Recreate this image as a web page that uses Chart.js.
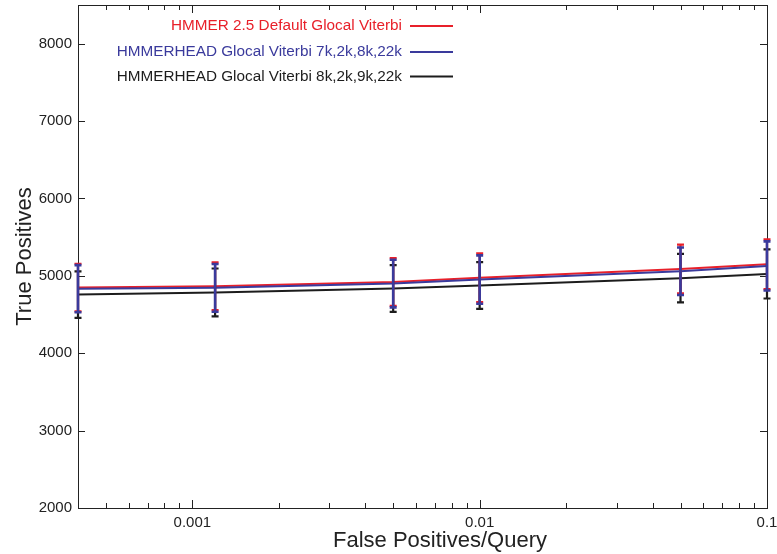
<!DOCTYPE html>
<html>
<head>
<meta charset="utf-8">
<script src="https://cdn.jsdelivr.net/npm/chart.js@4/dist/chart.umd.min.js"></script>
<style>
  html, body { margin: 0; padding: 0; background: #fff; }
  #wrap { width: 777px; height: 554px; }
</style>
</head>
<body>
<div id="wrap"><canvas id="roc"></canvas></div>
<script>
// false positives per query (x positions of the measured points)
const fpPerQuery = [0.0004, 0.0012, 0.005, 0.01, 0.05, 0.1];

const seriesNames = [
	'HMMER 2.5 Default Glocal Viterbi',
	'HMMERHEAD Glocal Viterbi 7k,2k,8k,22k',
	'HMMERHEAD Glocal Viterbi 8k,2k,9k,22k'
];
const seriesColors = ['#e8202a', '#3a3a9c', '#1c1c1c'];

// true positives and +/- error for each series
const hmmerDefault = [4848, 4865, 4920, 4976, 5088, 5150];
const hmmerDefaultErr = [308, 308, 308, 315, 315, 322];
const headA = [4834, 4845, 4900, 4952, 5060, 5128];
const headAErr = [304, 308, 308, 313, 307, 317];
const headB = [4758, 4785, 4837, 4875, 4970, 5025];
const headBErr = [300, 310, 302, 302, 313, 318];

const yTickValues = [2000, 3000, 4000, 5000, 6000, 7000, 8000];
const xTickValues = [0.001, 0.01, 0.1];
const xTickLabels = ['0.001', '0.01', '0.1'];
const xTitle = 'False Positives/Query';

const seriesValues = [hmmerDefault, headA, headB];
const seriesErrors = [hmmerDefaultErr, headAErr, headBErr];

const FONT = "'Liberation Sans', Arial, sans-serif";
Chart.defaults.font.family = FONT;
Chart.defaults.color = '#222';

function toPoints(vals){
	return fpPerQuery.map((x, i) => ({x: x, y: vals[i]}));
}

// frame around the plot plus inward tick marks on all four sides
const frameTicks = {
	id: 'frameTicks',
	afterDatasetsDraw(chart){
		const {ctx, chartArea: a, scales: {x, y}} = chart;
		ctx.save();
		ctx.strokeStyle = '#222';
		ctx.lineWidth = 1;
		ctx.strokeRect(a.left + 0.5, a.top + 0.5, a.right - a.left, a.bottom - a.top);
		ctx.beginPath();
		for (let d = -4; d <= -1; d++) {
			for (let m = 1; m <= 9; m++) {
				const v = m * Math.pow(10, d);
				if (v <= x.min * 1.001 || v >= x.max * 0.999) continue;
				const px = Math.round(x.getPixelForValue(v)) + 0.5;
				const len = m === 1 ? 8 : 5;
				ctx.moveTo(px, a.bottom); ctx.lineTo(px, a.bottom - len);
				ctx.moveTo(px, a.top); ctx.lineTo(px, a.top + len);
			}
		}
		yTickValues.forEach(v => {
			if (v <= y.min || v >= y.max) return;
			const py = Math.round(y.getPixelForValue(v)) + 0.5;
			ctx.moveTo(a.left, py); ctx.lineTo(a.left + 7, py);
			ctx.moveTo(a.right, py); ctx.lineTo(a.right - 7, py);
		});
		ctx.stroke();
		ctx.restore();
	}
};

// vertical error bars with caps, black first so blue ends up on top
const errorBars = {
	id: 'errorBars',
	afterDatasetsDraw(chart){
		const {ctx, scales: {x, y}} = chart;
		ctx.save();
		[2, 0, 1].forEach(s => {
			ctx.strokeStyle = seriesColors[s];
			ctx.lineWidth = s === 1 ? 2.6 : 2.2;
			ctx.beginPath();
			fpPerQuery.forEach((fp, i) => {
				const px = x.getPixelForValue(fp);
				const hi = y.getPixelForValue(seriesValues[s][i] + seriesErrors[s][i]);
				const lo = y.getPixelForValue(seriesValues[s][i] - seriesErrors[s][i]);
				ctx.moveTo(px, hi); ctx.lineTo(px, lo);
				ctx.moveTo(px - 3.5, hi); ctx.lineTo(px + 3.5, hi);
				ctx.moveTo(px - 3.5, lo); ctx.lineTo(px + 3.5, lo);
			});
			ctx.stroke();
		});
		ctx.restore();
	}
};

// legend inside the plot (text right-aligned, sample line to the right)
// and the x axis title, which sits a little right of centre
const insideLegend = {
	id: 'insideLegend',
	afterDraw(chart){
		const ctx = chart.ctx;
		const rows = [26, 52, 76.5];
		ctx.save();
		ctx.font = '15.3px ' + FONT;
		ctx.textAlign = 'right';
		ctx.textBaseline = 'middle';
		seriesNames.forEach((name, i) => {
			ctx.fillStyle = seriesColors[i];
			ctx.fillText(name, 402, rows[i]);
			ctx.strokeStyle = seriesColors[i];
			ctx.lineWidth = 2;
			ctx.beginPath();
			ctx.moveTo(410, rows[i]);
			ctx.lineTo(453, rows[i]);
			ctx.stroke();
		});
		ctx.font = '22px ' + FONT;
		ctx.textAlign = 'center';
		ctx.fillStyle = '#222';
		ctx.fillText(xTitle, 440, 541);
		ctx.restore();
	}
};

const ctx = document.getElementById('roc');

new Chart(ctx, {
	type: 'line',
	data: {
		datasets: seriesNames.map((name, i) => ({
			label: name,
			data: toPoints(seriesValues[i]),
			borderColor: seriesColors[i],
			backgroundColor: seriesColors[i],
			borderWidth: 2,
			pointRadius: 0,
			tension: 0,
			order: [2, 1, 3][i]
		}))
	},
	options: {
		responsive: true,
		maintainAspectRatio: false,
		animation: false,
		layout: { padding: { top: 5, right: 10, left: 0, bottom: 0 } },
		plugins: {
			legend: { display: false },
			tooltip: { enabled: false }
		},
		scales: {
			x: {
				type: 'logarithmic',
				min: 0.0004,
				max: 0.1,
				afterBuildTicks(scale){
					scale.ticks = xTickValues.map(v => ({value: v, major: true}));
				},
				afterFit(scale){
					scale.height = 46;
					scale.paddingLeft = 0;
					scale.paddingRight = 0;
				},
				grid: { display: false, drawTicks: false },
				border: { display: false },
				ticks: {
					autoSkip: false,
					maxRotation: 0,
					padding: 6,
					font: { size: 15 },
					callback(v, i){ return xTickLabels[i]; }
				},
				title: { display: false }
			},
			y: {
				min: 2000,
				max: 8500,
				afterBuildTicks(scale){
					scale.ticks = yTickValues.map(v => ({value: v}));
				},
				afterFit(scale){
					scale.width = 78;
					scale.paddingTop = 0;
					scale.paddingBottom = 0;
				},
				grid: { display: false, drawTicks: false },
				border: { display: false },
				ticks: {
					autoSkip: false,
					padding: 6,
					font: { size: 15 },
					callback(v){ return String(v); }
				},
				title: {
					display: true,
					text: 'True Positives',
					font: { size: 22 },
					padding: { top: 12, bottom: 0 }
				}
			}
		}
	},
	plugins: [frameTicks, errorBars, insideLegend]
});
</script>
</body>
</html>
